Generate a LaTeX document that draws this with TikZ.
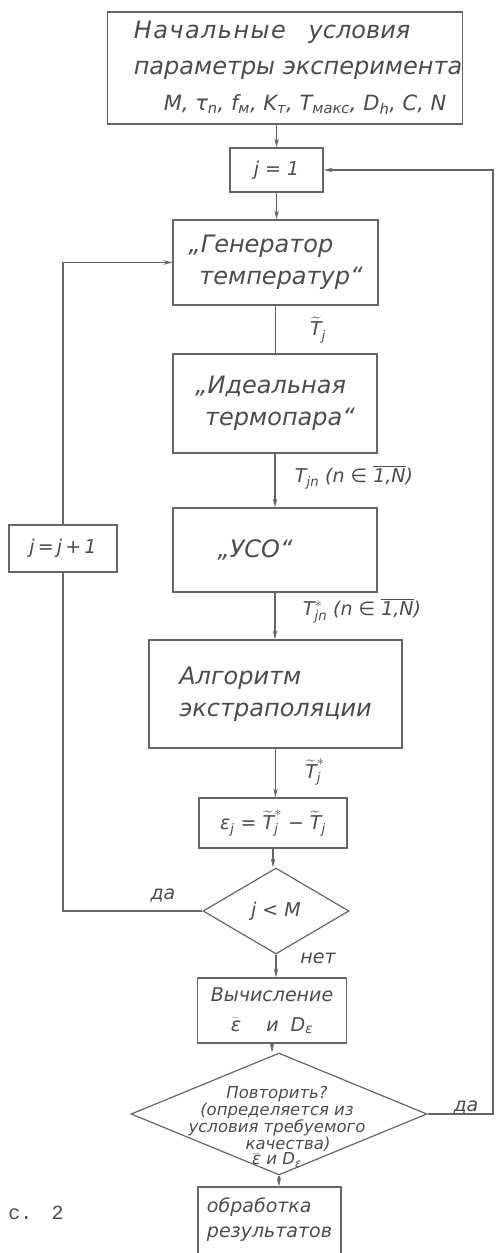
\documentclass[tikz,border=0pt]{standalone}
\usepackage{amsmath}
\usepackage{fontspec}
\newfontfamily\gost{DejaVu Sans}
\newfontfamily\typewr{Liberation Mono}
\usetikzlibrary{shapes.geometric, arrows.meta}
\newcommand{\ix}[2]{$\text{#1}_{\text{#2}}$}
\newcommand{\tT}{\widetilde{\text{T}}}

\begin{document}
\begin{tikzpicture}[x=1pt, y=-1pt,
	box/.style={draw=black!60, line width=1.2pt, text=black!70, inner sep=0pt, font=\gost\itshape\fontsize{24}{32}\selectfont},
	smallbox/.style={box, font=\gost\itshape\fontsize{19}{30}\selectfont},
	cond/.style={box, diamond, font=\gost\itshape\fontsize{19}{24}\selectfont},
	lbl/.style={text=black!70, inner sep=0pt, font=\gost\itshape\fontsize{19}{24}\selectfont},
	ln/.style={draw=black!60, line width=1.2pt},
	arr/.style={ln, -{Stealth[length=9pt, width=4.5pt]}}]
	\useasboundingbox[fill=white] (0,0) rectangle (496,1253);
	\node[box, minimum width=352, minimum height=112, align=left, font=\gost\itshape\fontsize{24}{36}\selectfont] (init) at (285,68)
		{\hspace*{26pt}{\addfontfeature{LetterSpace=6}Начальные} \ \ условия\\\hspace*{26pt}параметры эксперимента\\\hspace*{56pt}{\fontsize{21}{36}\selectfont M, \ix{τ}{n}, \ix{f}{м}, \ix{K}{т}, \ix{T}{макс}, \ix{D}{h}, C, N}};
	\node[smallbox, minimum width=93, minimum height=44] (j1) at (276.5,170) {j = 1};
	\node[box, minimum width=205, minimum height=85, align=left] (gen) at (275.5,262.5) {„Генератор\\\hspace*{11pt}температур“};
	\node[box, minimum width=204, minimum height=99, align=left] (ideal) at (275,403.5) {„Идеальная\\\hspace*{10pt}термопара“};
	\node[box, minimum width=204, minimum height=84] (uso) at (275,550) {„УСО“\hspace*{40pt}};
	\node[smallbox, minimum width=108, minimum height=47] (jinc) at (63,548.5) {j\,=\,j\,+\,1};
	\node[box, minimum width=253, minimum height=108, align=left] (algo) at (275.5,694) {Алгоритм\\экстраполяции};
	\node[smallbox, minimum width=148, minimum height=50] (eps) at (273,823) {\ix{ε}{j} = $\tT^{*}_{\text{j}}$ − $\tT_{\text{j}}$};
	\node[cond, minimum width=146, minimum height=86] (jm) at (276,911) {j < M};
	\node[smallbox, minimum width=149, minimum height=65, align=center, font=\gost\itshape\fontsize{19}{30}\selectfont] (calc) at (272,1010.5) {Вычисление\\$\bar{\text{ε}}$ \quad и \ \ix{D}{ε}};
	\node[cond, minimum width=296, minimum height=122] (rep) at (279,1114) {};
	\node[lbl, align=center, font=\gost\itshape\fontsize{16.5}{13.5}\selectfont] (reptext) at (277,1127)
		{Повторить?\\(определяется из\\условия требуемого\\\hspace*{22pt}качества)\\$\bar{\text{ε}}$ и \ix{D}{ε}};
	\node[smallbox, minimum width=143, minimum height=75, align=left, font=\gost\itshape\fontsize{19}{25}\selectfont] (res) at (269.5,1224.5) {обработка\\результатов\\[-11pt]};
	\node[lbl] (lTj) at (318,330) {$\tT_{\text{j}}$};
	\node[lbl] (lTjn) at (354,477) {\ix{T}{jn} (n ∈ $\overline{\text{1,N}}$)};
	\node[lbl] (lTsjn) at (362,611) {$\text{T}^{*}_{\text{jn}}$ (n ∈ $\overline{\text{1,N}}$)};
	\node[lbl] (lTsj) at (315,772) {$\tT^{*}_{\text{j}}$};
	\node[lbl] (yes1) at (163,895) {да};
	\node[lbl] (no) at (318,958) {нет};
	\node[lbl] (yes2) at (466,1107) {да};
	\node[text=black!70, inner sep=0pt, font=\typewr\fontsize{20}{24}\selectfont] (fig) at (36,1213) {с. \,2};
	\coordinate (rt) at (493,0);
	\draw[arr] (init.south -| j1.north) -- (j1.north);
	\draw[arr] (j1.south) -- (j1.south |- gen.north);
	\draw[ln] (gen.south) -- (gen.south |- ideal.north);
	\draw[arr] (ideal.south) -- (ideal.south |- uso.north);
	\draw[arr] (uso.south) -- (uso.south |- algo.north);
	\draw[arr] (algo.south) -- (algo.south |- eps.north);
	\draw[arr] (eps.south) -- (eps.south |- jm.north);
	\draw[arr] (jm.south) -- (jm.south |- calc.north);
	\draw[arr] (calc.south) -- (calc.south |- rep.north);
	\draw[arr] (rep.south) -- (rep.south |- res.north);
	\draw[ln] (jm.west) -- (jm.west -| jinc.south) -- (jinc.south);
	\draw[arr] (jinc.north) |- (gen.west);
	\draw[arr] (rep.east) -- (rep.east -| rt) |- (j1.east);
\end{tikzpicture}
\end{document}
